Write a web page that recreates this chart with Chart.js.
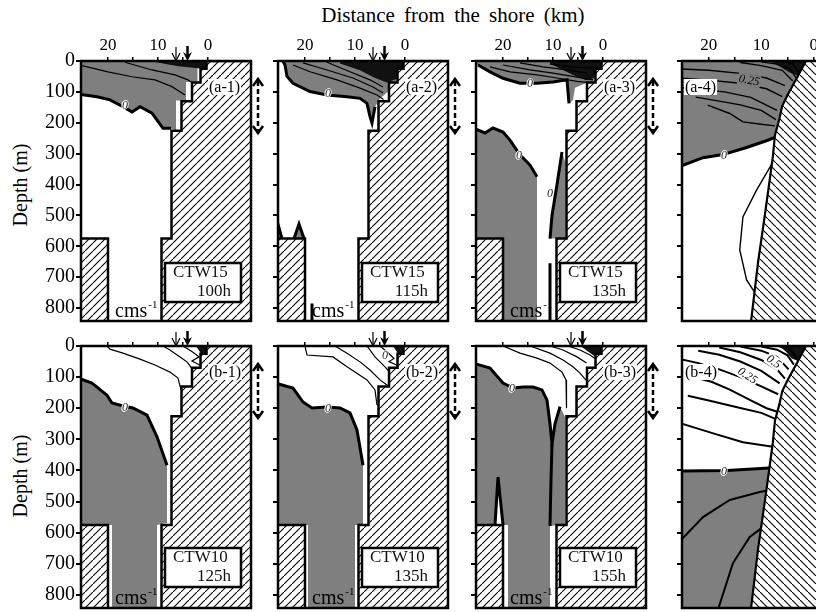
<!DOCTYPE html>
<html>
<head>
<meta charset="utf-8">
<title>CTW cross-shore sections</title>
<script src="https://cdn.jsdelivr.net/npm/chart.js@4.4.1/dist/chart.umd.min.js"></script>
<style>
  body { margin:0; width:816px; height:612px; overflow:hidden; background:#fff; position:relative; font-family:"Liberation Serif", serif; }
  canvas { position:absolute; }
  #xtitle { position:absolute; left:0; top:3px; width:906px; text-align:center; font-size:21px; word-spacing:4px; }
  .ytitle { position:absolute; left:20px; font-size:20px; white-space:nowrap; transform:translate(-50%,-50%) rotate(-90deg); }
</style>
</head>
<body>
<div id="xtitle">Distance from the shore (km)</div>
<div class="ytitle" style="top:185px">Depth (m)</div>
<div class="ytitle" style="top:476px">Depth (m)</div>
<script>
// --- ticks ---
const distLabels = [20, 10, 0];
const distTicks = [20, 15, 10, 5, 0];
const depthTicks = [0, 100, 200, 300, 400, 500, 600, 700, 800];
const depthMax = 842;

// --- bottom topography, [km from shore, depth m] ---
const shelf = [[-9,0],[0.3,0],[0.3,25],[1.5,25],[1.5,70],[3.2,70],[3.2,130],[5.3,130],[5.3,226],[7.3,226],[7.3,575],[9.3,575],[9.3,850],[-9,850],[-9,0]];
const shelfBasin = [[26,575],[20,575],[20,850],[26,850],[26,575]];
const slope = [[1.5,0],[3.0,48],[5.0,110],[6.0,145],[6.6,190],[7.4,240],[7.8,310],[8.6,410],[9.5,520],[10.6,650],[12.0,850],[-2,850],[-2,0],[1.5,0]];

// --- (a-1) CTW15 100h ---
const a1Gray = [[26,0],[26,107],[22.2,116],[19.6,126],[17,148],[15.2,165],[13.6,148],[11.2,169],[9,218],[7.6,218],[6.4,224],[6.4,128],[4.4,128],[4.4,68],[2.1,68],[2.1,22],[0.7,22],[0.7,0]];
const a1Black = [[11.5,0],[0.3,0],[0.3,22],[1.5,24],[3,22],[6,17],[9,8]];
const a1Zero = [[26,107],[22.2,116],[19.6,126],[17,148],[15.2,165],[13.6,148],[11.2,169],[9,218],[7.4,218]];
const a1Lines = [
  [[26,12],[20,35],[15.2,51],[10.6,61],[7.2,83],[4.6,110]],
  [[16.6,4],[11.2,29],[6.6,45],[4,61],[3.4,68]]
];

// --- (a-2) CTW15 115h ---
const a2Gray = [[24.4,0],[24,13],[23.6,50],[22.4,72],[19,99],[15.6,110],[11.6,116],[9,121],[7.6,137],[7,180],[6.6,201],[6,148],[5,122],[3.5,100],[3.4,70],[1.7,66],[1.7,22],[0.7,22],[0.7,0]];
const a2Black = [[13,0],[0.3,0],[0.3,22],[1.5,24],[1.7,58],[3.6,70],[6,55],[9,30],[13,8]];
const a2Zero = [[24.4,0],[24,13],[23.6,50],[22.4,72],[19,99],[15.6,110],[11.6,116],[9,121],[7.6,137],[7,180],[6.6,201],[6,148]];
const a2Lines = [
  [[22.4,13],[19,35],[13.6,61],[9,88],[5.6,110],[4.3,125]],
  [[20.4,6],[15.6,29],[10.4,55],[6.4,84],[4.4,104]],
  [[15.6,4],[11,35],[7,61],[4.4,84]]
];
const a2SpikeL = [[26,575],[25.4,528],[24.6,575]];
const a2SpikeR = [[22.2,575],[21.2,528],[20.2,575]];
const a2Stub = [[18.6,785],[18.6,850]];

// --- (a-3) CTW15 135h ---
const a3GrayTop = [[26,0],[26,10],[25,13],[22.6,35],[20,56],[16.6,72],[13.2,72],[10,68],[7.2,61],[6.8,137],[6,126],[5.6,87],[3.5,72],[1.7,66],[1.7,22],[0.7,22],[0.7,0]];
const a3Black = [[10.6,0],[0.3,0],[0.3,22],[1.5,24],[1.7,55],[3.4,62],[6,45],[8.5,25],[10.6,8]];
const a3ZeroTop = [[25,13],[22.6,35],[20,56],[16.6,72],[13.2,72],[10,68],[7.2,61],[6.8,137]];
const a3Lines = [
  [[22.6,19],[18.6,35],[13.2,45],[9.2,55],[5.2,66],[3,70]],
  [[20,13],[14.6,29],[10,39],[5.2,52],[2,61]],
  [[16.6,6],[12,19],[7.2,29],[3.2,39]],
  [[10.6,10],[6.6,19],[2,23]]
];
const a3GrayDeep = [[26,217],[23.6,233],[22,217],[20,230],[18.6,256],[16.6,304],[14.6,337],[13.2,375],[13.2,850],[26,850]];
const a3ZeroDeep = [[26,217],[23.6,233],[22,217],[20,230],[18.6,256],[16.6,304],[14.6,337],[13.2,375]];
const a3Strip = [[8.2,295],[7.5,330],[7.5,573],[10.6,575],[10.2,500],[9.2,400]];
const a3ZeroStrip = [[8.2,295],[9.2,400],[10.2,500],[10.6,575]];
const a3Stub = [[10.6,655],[10.6,850]];

// --- (a-4) ---
const a4Gray = [[26,0],[26,345],[21.1,313],[17.3,303],[12.8,280],[8.5,255],[7,246],[0,0]];
const a4Black = [[8.5,0],[1.5,0],[3,48],[4.5,38],[6.5,18]];
const a4Zero = [[26,345],[21.1,313],[17.3,303],[12.8,280],[8.5,255],[7.2,246]];
const a4Lines = [
  [[26,25],[20,30],[14,40],[9,55],[5.5,80]],
  [[26,55],[20,62],[14,72],[9,90],[6,115]],
  [[26,85],[22,92],[17,100],[12,118],[7,160]],
  [[22.5,117],[18,130],[14,142],[10,160],[7.2,190]],
  [[20.2,143],[16,170],[13.5,197],[10,205],[7.4,210]],
  [[14,5],[10,15],[6,30],[4,65]],
  [[10,3],[7,10],[4.5,25],[3.4,55]],
  [[6,2],[4,8],[2.8,40]]
];
const a4Curve = [[7.9,331],[10.9,418],[13.5,505],[14.1,612],[12.8,709],[10.7,764]];

// --- (b-1) CTW10 125h ---
const b1Gray = [[26,103],[23.2,119],[20.2,158],[19.2,183],[17,193],[15,199],[12.2,222],[10.2,292],[8.2,383],[8.2,569],[10.2,575],[10.2,850],[19.2,850],[19.2,575],[26,575]];
const b1Zero = [[26,103],[23.2,119],[20.2,158],[19.2,183],[17,193],[15,199],[12.2,222],[10.2,292],[8.2,383]];
const b1Lines = [
  [[20.2,0],[19.6,10],[17,23],[13.6,42],[10.6,61],[7.6,84],[6,103],[5.4,141]],
  [[9,0],[7.6,13],[5.6,35],[4.2,51],[3.3,70]],
  [[5,0],[3,20],[1.8,35],[3.2,48],[1.6,62]]
];
const b1Black = [[2.4,0],[0.3,0],[0.3,24],[1.4,24]];

// --- (b-2) CTW10 135h ---
const b2Gray = [[26,119],[22.4,135],[20.4,180],[18.6,199],[15.6,196],[13,199],[11,215],[9.6,270],[8.4,383],[8.4,575],[10,575],[10,850],[19.4,850],[19.4,575],[26,575]];
const b2Zero = [[26,119],[22.4,135],[20.4,180],[18.6,199],[15.6,196],[13,199],[11,215],[9.6,270],[8.4,383]];
const b2Lines = [
  [[20,0],[19.6,29],[14.4,35],[11.6,67],[7.6,109],[6,141],[5.6,190]],
  [[14,0],[11.6,23],[9,51],[7,77],[5,109],[3.4,128]],
  [[7.6,0],[6,35],[4,67],[3.3,80]],
  [[5,0],[3.5,20],[2.2,40],[3.2,50],[1.6,62]]
];
const b2Black = [[2.4,0],[0.3,0],[0.3,24],[1.4,24]];

// --- (b-3) CTW10 155h ---
const b3Gray = [[26,55],[22.6,71],[20,119],[18,135],[16,132],[14,132],[12.2,141],[11.2,174],[10.6,250],[10.2,315],[9.6,250],[8.6,195],[7.6,228],[7.6,575],[10.6,578],[10.6,850],[19,850],[19,575],[20,575],[21,421],[21.6,575],[26,575]];
const b3Zero = [[26,55],[22.6,71],[20,119],[18,135],[16,132],[14,132],[12.2,141],[11.2,174],[10.6,250],[10.2,315],[9.6,250],[8.6,195]];
const b3Seam = [[10.2,315],[10.4,430],[10.6,578]];
const b3Spike = [[20,575],[21,421],[21.6,575]];
const b3Lines = [
  [[20,0],[16.6,23],[13.2,39],[10.6,55],[8.2,84],[7.4,109],[7.3,200]],
  [[14.6,0],[10.6,23],[8,45],[6,67],[4.6,87],[3.4,110]],
  [[10.6,0],[8,13],[5.2,35],[3.3,55]],
  [[7,0],[4.6,13],[2.6,29],[1.6,40]]
];
const b3Black = [[4.5,0],[0.3,0],[0.3,24],[1.5,26],[1.6,34],[3,18]];

// --- (b-4) ---
const b4Gray = [[26,402],[16.5,400],[8.2,392],[0,392],[0,850],[26,850]];
const b4Black = [[6.5,0],[1.5,0],[3.0,48],[4.2,40],[5.2,20]];
const b4Zero = [[26,402],[16.5,400],[8.5,392]];
const b4Deep = [
  [[26,636],[21.1,550],[16,495],[10.3,469],[9.0,465]],
  [[18.3,850],[15.4,698],[12.2,614],[9.7,582]]
];
const b4Lines = [
  [[26,245],[19.3,280],[13.5,309],[7.8,324]],
  [[24,160],[20,175],[15,195],[10,215],[7.2,235]],
  [[23,100],[19.5,115],[16,140],[12,175],[9,200],[6.8,212]],
  [[26,40],[22,55],[18,75],[14,100],[10,130],[6.8,155]],
  [[22,15],[18,28],[14,50],[10,80],[6.5,120]],
  [[18,5],[14,20],[10,45],[7,75],[5.5,105]],
  [[14,2],[10,15],[7,35],[4.8,75]],
  [[10,2],[7,12],[5,30],[3.8,60]],
  [[6.5,2],[4.5,12],[3.2,40]]
];

// --- layout ---
const SERIF = '"Liberation Serif", "Times New Roman", serif';
const GRAY = '#7f7f7f';
const colLeft = [81, 278, 476, 682];
const colWidth = [170, 170, 170, 136];
const rowTop = [61, 346];
const rowHeight = [260, 262];

const panels = [
  { name: '(a-1)', col: 0, row: 0, run: 'CTW15', hour: '100h',
    gray: [a1Gray], black: [a1Black], zero: [a1Zero], thin: a1Lines, zeros: [[16.6,142]] },
  { name: '(a-2)', col: 1, row: 0, run: 'CTW15', hour: '115h',
    gray: [a2Gray, a2SpikeL, a2SpikeR], black: [a2Black], zero: [a2Zero, a2SpikeL, a2SpikeR, a2Stub], thin: a2Lines, zeros: [[15.4,104]] },
  { name: '(a-3)', col: 2, row: 0, run: 'CTW15', hour: '135h',
    gray: [a3GrayTop, a3GrayDeep, a3Strip], black: [a3Black], zero: [a3ZeroTop, a3ZeroDeep, a3ZeroStrip, a3Stub], thin: a3Lines,
    zeros: [[14.6,72],[16.8,304],[10.6,428]] },
  { name: '(a-4)', col: 3, row: 0,
    gray: [a4Gray], black: [a4Black], zero: [a4Zero], thin: a4Lines.concat([a4Curve]), thinWidth: 1.4,
    zeros: [[17.1,304]], values: [[12.3,62,'0.25',0.2]] },
  { name: '(b-1)', col: 0, row: 1, run: 'CTW10', hour: '125h',
    gray: [b1Gray], black: [b1Black], zero: [b1Zero], thin: b1Lines, zeros: [[16.6,196]] },
  { name: '(b-2)', col: 1, row: 1, run: 'CTW10', hour: '135h',
    gray: [b2Gray], black: [b2Black], zero: [b2Zero], thin: b2Lines, zeros: [[15.4,199],[4,29]] },
  { name: '(b-3)', col: 2, row: 1, run: 'CTW10', hour: '155h',
    gray: [b3Gray], black: [b3Black], zero: [b3Zero, b3Spike, b3Seam], thin: b3Lines, zeros: [[18.2,135]] },
  { name: '(b-4)', col: 3, row: 1,
    gray: [b4Gray], black: [b4Black], zero: [b4Zero], thin: b4Lines.concat(b4Deep), thinWidth: 2,
    zeros: [[17.1,402]], values: [[12.6,95,'0.25',0.6],[7.6,50,'0.5',0.6]] }
];

function hatch(dir) {
  const c = document.createElement('canvas');
  c.width = c.height = 8;
  const g = c.getContext('2d');
  g.fillStyle = '#fff';
  g.fillRect(0, 0, 8, 8);
  g.strokeStyle = '#000';
  g.lineWidth = 1.1;
  g.beginPath();
  if (dir > 0) {
    g.moveTo(-1, 9); g.lineTo(9, -1);
  } else {
    g.moveTo(-1, -1); g.lineTo(9, 9);
  }
  g.stroke();
  return g.createPattern(c, 'repeat');
}

function shape(pts, fillColor, lineColor, width, order) {
  return {
    data: pts.map(([x, y]) => ({ x, y })),
    fill: fillColor ? 'shape' : false,
    backgroundColor: fillColor || 'rgba(0,0,0,0)',
    borderColor: lineColor || 'rgba(0,0,0,0)',
    borderWidth: width || 0.01,
    order: order,
    pointRadius: 0,
    tension: 0,
    borderJoinStyle: 'miter'
  };
}

function arrowDown(ctx, x, y0, y1, bold) {
  ctx.beginPath();
  ctx.moveTo(x, y0);
  ctx.lineTo(x, y1 - (bold ? 4 : 0));
  ctx.lineWidth = bold ? 2.5 : 1.2;
  ctx.stroke();
  ctx.beginPath();
  if (bold) {
    ctx.moveTo(x - 4.5, y1 - 9); ctx.lineTo(x, y1 - 6); ctx.lineTo(x + 4.5, y1 - 9); ctx.lineTo(x, y1);
    ctx.closePath(); ctx.fill();
  } else {
    ctx.moveTo(x - 4, y1 - 8); ctx.lineTo(x, y1); ctx.lineTo(x + 4, y1 - 8);
    ctx.stroke();
  }
}

function makeDeco(p) {
  const shelfPanel = p.col < 3;
  return {
    id: 'deco',
    afterDatasetsDraw(chart) {
      const { ctx, chartArea: a, scales: { x, y } } = chart;
      ctx.save();
      ctx.strokeStyle = '#000';
      ctx.fillStyle = '#000';

      // contour labels
      ctx.font = 'italic 12px ' + SERIF;
      ctx.textAlign = 'center';
      ctx.textBaseline = 'middle';
      (p.zeros || []).forEach(([km, d]) => {
        const px = x.getPixelForValue(km), py = y.getPixelForValue(d);
        ctx.fillStyle = '#fff';
        ctx.beginPath(); ctx.ellipse(px, py, 3.5, 5, 0.3, 0, 2 * Math.PI); ctx.fill();
        ctx.fillStyle = '#222';
        ctx.fillText('0', px, py + 0.5);
      });
      (p.values || []).forEach(([km, d, txt, rot]) => {
        const px = x.getPixelForValue(km), py = y.getPixelForValue(d);
        ctx.save();
        ctx.translate(px, py); ctx.rotate(rot);
        const w = ctx.measureText(txt).width;
        ctx.fillStyle = p.row === 0 ? GRAY : '#fff';
        ctx.fillRect(-w / 2 - 1, -6, w + 2, 12);
        ctx.fillStyle = '#000';
        ctx.fillText(txt, 0, 0.5);
        ctx.restore();
      });

      // frame
      ctx.lineWidth = 2.5;
      ctx.strokeRect(a.left, a.top, a.right - a.left, a.bottom - a.top);

      // panel name
      ctx.font = '16px ' + SERIF;
      ctx.textAlign = 'left';
      const tw = ctx.measureText(p.name).width;
      const lx = shelfPanel ? a.right - 42 : a.left + 3;
      ctx.fillStyle = '#fff';
      ctx.fillRect(lx - 1, a.top + 18, tw + 2, 16);
      ctx.fillStyle = '#000';
      ctx.fillText(p.name, lx, a.top + 26.5);

      if (shelfPanel) {
        // run box
        const bx = a.right - 86, by = a.top + 202, bw = 76, bh = 39;
        ctx.fillStyle = '#fff';
        ctx.fillRect(bx, by, bw, bh);
        ctx.lineWidth = 2.5;
        ctx.strokeRect(bx, by, bw, bh);
        ctx.fillStyle = '#111';
        ctx.font = '17px ' + SERIF;
        ctx.fillText(p.run, bx + 8, by + 10);
        ctx.textAlign = 'right';
        ctx.fillText(p.hour, bx + bw - 10, by + 29);

        // unit
        ctx.textAlign = 'left';
        ctx.textBaseline = 'alphabetic';
        ctx.fillStyle = '#000';
        ctx.font = '20px ' + SERIF;
        ctx.fillText('cms', a.left + 34, a.bottom - 4);
        const uw = ctx.measureText('cms').width;
        ctx.font = '11px ' + SERIF;
        ctx.fillText('-1', a.left + 35 + uw, a.bottom - 13);

        // forcing positions
        arrowDown(ctx, x.getPixelForValue(6.4), a.top - 14, a.top, false);
        arrowDown(ctx, x.getPixelForValue(4.1), a.top - 15, a.top, true);

        // dashed double arrow
        const dx = a.right + 7, ya = a.top + 18, yb = a.top + 72;
        ctx.lineWidth = 2.5;
        ctx.setLineDash([5, 3]);
        ctx.beginPath(); ctx.moveTo(dx, ya + 2); ctx.lineTo(dx, yb - 2); ctx.stroke();
        ctx.setLineDash([]);
        ctx.beginPath();
        ctx.moveTo(dx - 5, ya + 7); ctx.lineTo(dx, ya); ctx.lineTo(dx + 5, ya + 7);
        ctx.moveTo(dx - 5, yb - 7); ctx.lineTo(dx, yb); ctx.lineTo(dx + 5, yb - 7);
        ctx.stroke();
      }
      ctx.restore();
    }
  };
}

function makeChart(p) {
  const L = colLeft[p.col], T = rowTop[p.row], W = colWidth[p.col], H = rowHeight[p.row];
  const padL = p.col === 0 ? 44 : 10, padT = 26, padR = 16, padB = 4;
  const cv = document.createElement('canvas');
  cv.width = W + padL + padR;
  cv.height = H + padT + padB;
  cv.style.left = (L - padL) + 'px';
  cv.style.top = (T - padT) + 'px';
  document.body.appendChild(cv);

  const shelfPanel = p.col < 3;
  const datasets = [];
  if (shelfPanel) {
    datasets.push(shape(shelf, hatch(1), '#000', 2.5, 0));
    datasets.push(shape(shelfBasin, hatch(1), '#000', 2.5, 0));
  } else {
    datasets.push(shape(slope, hatch(-1), '#000', 2.2, 0));
  }
  p.zero.forEach(z => datasets.push(shape(z, null, '#000', 3, 1)));
  p.thin.forEach(t => datasets.push(shape(t, null, '#000', p.thinWidth || 1.2, 2)));
  p.black.forEach(b => datasets.push(shape(b, '#111', null, 0, 3)));
  p.gray.forEach(g => datasets.push(shape(g, GRAY, null, 0, 4)));

  const xr = shelfPanel ? { min: -8.6, max: 25.4 } : { min: -0.8, max: 25.1 };

  new Chart(cv, {
    type: 'line',
    data: { datasets },
    options: {
      responsive: false,
      animation: false,
      events: [],
      layout: { padding: { left: 0, top: 0, right: padR, bottom: padB } },
      plugins: { legend: { display: false }, tooltip: { enabled: false } },
      scales: {
        x: {
          type: 'linear', position: 'top', reverse: true, min: xr.min, max: xr.max,
          afterBuildTicks: s => { s.ticks = distTicks.map(v => ({ value: v })); },
          afterFit: s => { s.height = padT; s.paddingLeft = 0; s.paddingRight = 0; },
          ticks: {
            display: p.row === 0, autoSkip: false, maxRotation: 0, padding: 1, color: '#000',
            font: { family: SERIF, size: 17 },
            callback: v => (distLabels.includes(v) ? String(v) : '')
          },
          grid: { drawOnChartArea: false, drawTicks: true, tickLength: 4, color: '#000', lineWidth: 1.5 },
          border: { display: false }
        },
        y: {
          type: 'linear', reverse: true, min: 0, max: depthMax,
          afterBuildTicks: s => { s.ticks = depthTicks.map(v => ({ value: v })); },
          afterFit: s => { s.width = padL; s.paddingTop = 0; s.paddingBottom = 0; },
          ticks: {
            display: p.col === 0, autoSkip: false, padding: 1, color: '#000',
            font: { family: SERIF, size: 20 }
          },
          grid: { drawOnChartArea: false, drawTicks: true, tickLength: 5, color: '#000', lineWidth: 2 },
          border: { display: false }
        }
      }
    },
    plugins: [makeDeco(p)]
  });
}

panels.forEach(makeChart);
</script>
</body>
</html>
